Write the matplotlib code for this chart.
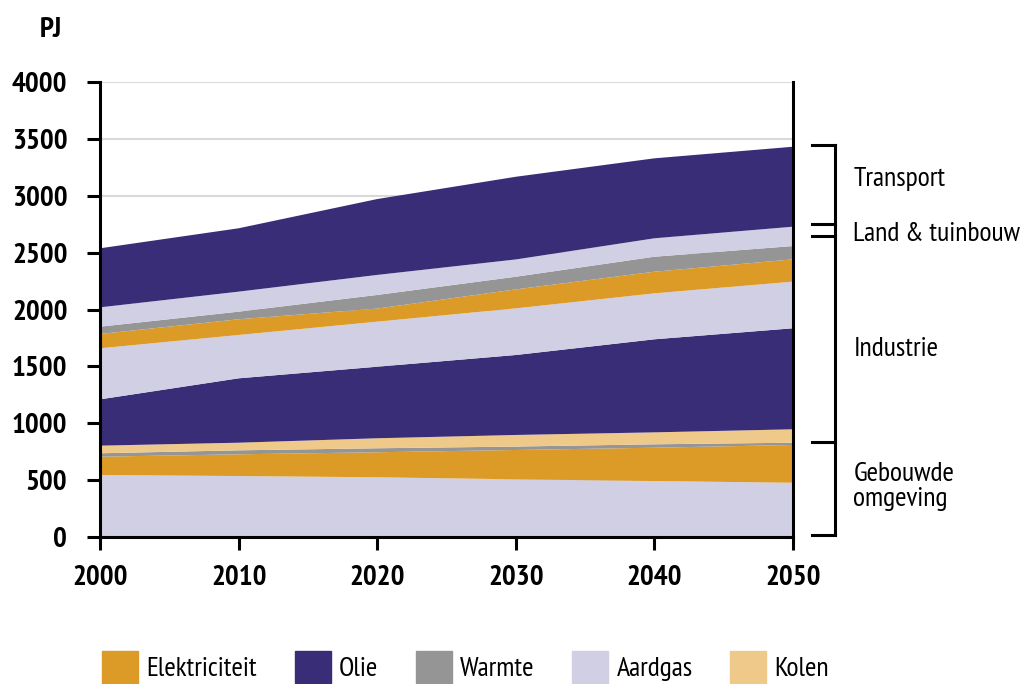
import matplotlib
matplotlib.use("Agg")
import matplotlib.pyplot as plt
from matplotlib.patches import Patch
import matplotlib.transforms as mtransforms

plt.rcParams['font.family'] = ['PT Sans Narrow', 'DejaVu Sans']

jaren = [2000, 2010, 2020, 2030, 2040, 2050]

# gebouwde omgeving
go_aardgas = [545, 536, 525, 507, 492, 477]
go_elektriciteit = [161, 191, 220, 258, 293, 332]
go_warmte = [30, 35, 35, 30, 30, 20]
go_kolen = [67, 67, 88, 102, 105, 118]

# industrie
ind_olie = [407, 566, 629, 703, 818, 888]
ind_aardgas = [449, 381, 396, 410, 404, 410]
ind_elektriciteit = [126, 138, 115, 167, 190, 196]
ind_warmte = [64, 67, 120, 111, 132, 117]

# land & tuinbouw
land_aardgas = [170, 176, 176, 152, 162, 170]

# transport
transport_olie = [519, 557, 667, 727, 703, 703]

c_elek = '#DC9A26'
c_olie = '#3A2D78'
c_warm = '#959595'
c_gas = '#D0CFE3'
c_kolen = '#EEC98A'

lagen = [go_aardgas, go_elektriciteit, go_warmte, go_kolen,
         ind_olie, ind_aardgas, ind_elektriciteit, ind_warmte,
         land_aardgas, transport_olie]
kleuren = [c_gas, c_elek, c_warm, c_kolen,
           c_olie, c_gas, c_elek, c_warm,
           c_gas, c_olie]

fig = plt.figure(figsize=(10.26, 6.84), dpi=100)
ax = fig.add_axes([100/1026, 1-537/684, 693/1026, 455/684])

for y in range(500, 4001, 500):
    ax.axhline(y, color='#d9d9d9', lw=1.5, zorder=0)

ax.stackplot(jaren, *lagen, colors=kleuren, linewidth=0, zorder=2)

ax.set_xlim(2000, 2050)
ax.set_ylim(0, 4000)
ax.set_xticks(jaren)
ax.set_yticks(range(0, 4001, 500))
ax.tick_params(axis='both', direction='out', length=9.5, width=2.2,
               labelsize=21, color='black')
ax.tick_params(axis='y', pad=14)
ax.tick_params(axis='x', pad=11)
for lbl in ax.get_xticklabels() + ax.get_yticklabels():
    lbl.set_fontweight('bold')

ax.spines['top'].set_visible(False)
for s in ['left', 'bottom', 'right']:
    ax.spines[s].set_linewidth(2.2)
    ax.spines[s].set_zorder(5)

fig.text(40/1026, 1-30/684, 'PJ', fontsize=21, fontweight='bold',
         va='center', ha='left')

# haken met sectornamen rechts van de grafiek
trans = mtransforms.blended_transform_factory(ax.transAxes, ax.transData)
x0, x1 = 1.027, 1.061
ax.plot([x1, x1], [3446, 15], color='black', lw=2.2, transform=trans,
        clip_on=False)
for yb in [3446, 2752, 2646, 838, 15]:
    ax.plot([x0, x1], [yb, yb], color='black', lw=2.2, transform=trans,
            clip_on=False)

xt = 1.087
ax.text(xt, 3150, 'Transport', transform=trans, fontsize=20, va='center')
ax.text(xt, 2665, 'Land & tuinbouw', transform=trans, fontsize=20, va='center')
ax.text(xt, 1655, 'Industrie', transform=trans, fontsize=20, va='center')
ax.text(xt, 440, 'Gebouwde\nomgeving', transform=trans, fontsize=20,
        va='center', linespacing=1.05)

handles = [Patch(color=c_elek, label='Elektriciteit'),
           Patch(color=c_olie, label='Olie'),
           Patch(color=c_warm, label='Warmte'),
           Patch(color=c_gas, label='Aardgas'),
           Patch(color=c_kolen, label='Kolen')]
fig.legend(handles=handles, ncol=5, loc='center left',
           bbox_to_anchor=(102/1026, 1-667/684), frameon=False, fontsize=20,
           handlelength=1.3, handleheight=1.35, handletextpad=0.3,
           columnspacing=1.35, borderpad=0, borderaxespad=0)

fig.savefig('out.png', dpi=100)
